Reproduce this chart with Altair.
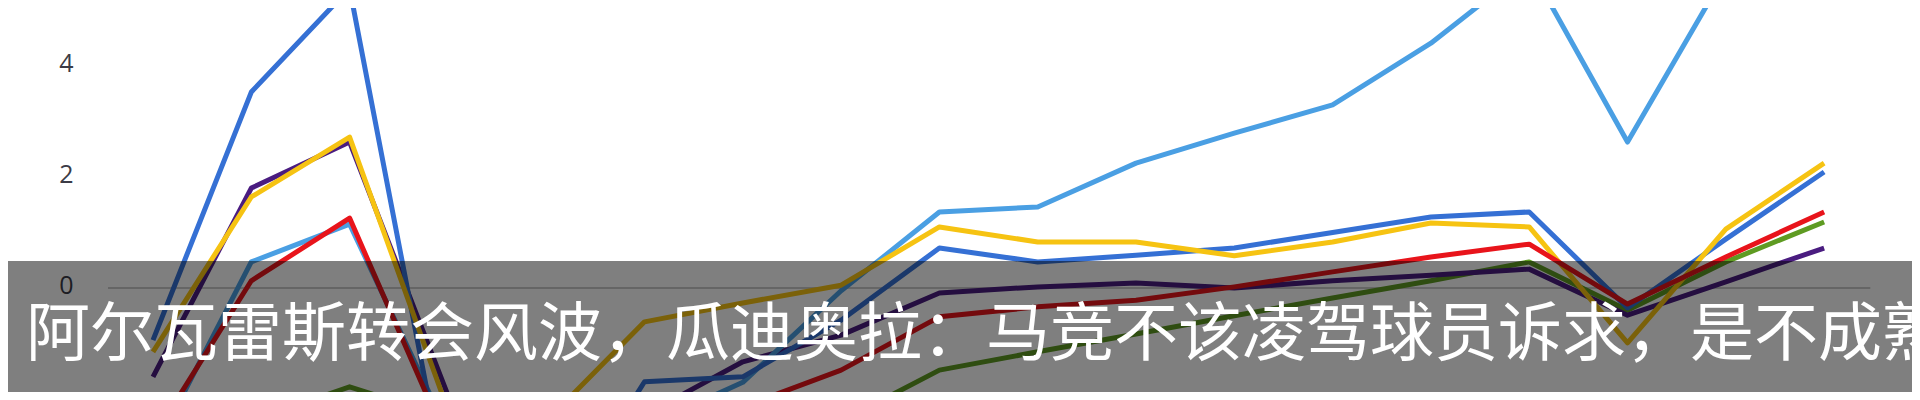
import altair as alt
import pandas as pd

# ---- data ----
x_idx = list(range(18))
series_names = ["A", "B", "C", "D", "E", "F"]  # drawing order (bottom -> top)
series_colors = ["#5e9b22", "#4a1c80", "#4a9fe3", "#3570d4", "#f6c312", "#e8141b"]

green = [-3.2, -2.4, -1.78, -2.35, -2.6, -2.8, -2.7, -2.4, -1.48, -1.15, -0.83, -0.5,
         -0.18, 0.13, 0.47, -0.4, 0.47, 1.19]
purple = [-1.60, 1.80, 2.63, -1.93, -2.8, -2.29, -1.33, -0.85, -0.09, 0.02, 0.09, 0.0,
          0.13, 0.23, 0.34, -0.49, 0.11, 0.72]
light_blue = [-2.97, 0.47, 1.15, -2.6, -3.2, -2.5, -1.7, -0.05, 1.37, 1.46, 2.25, 2.79,
              3.30, 4.41, 5.8, 2.63, 5.68, 6.0]
dark_blue = [-0.94, 3.53, 5.4, -3.8, -4.5, -1.69, -1.60, -0.58, 0.72, 0.47, 0.59, 0.72,
             1.0, 1.28, 1.37, -0.36, 0.88, 2.09]
yellow = [-1.15, 1.64, 2.72, -2.2, -2.4, -0.61, -0.27, 0.05, 1.10, 0.83, 0.83, 0.58,
          0.83, 1.17, 1.10, -0.99, 1.06, 2.25]
red = [-2.7, 0.13, 1.26, -2.8, -3.0, -2.6, -2.14, -1.48, -0.52, -0.34, -0.22, 0.02,
       0.29, 0.56, 0.79, -0.29, 0.56, 1.37]

y_ticks = [4, 2, 0]
banner_text = "阿尔瓦雷斯转会风波，瓜迪奥拉：马竞不该凌驾球员诉求，是不成熟"

rows = []
for name, vals in zip(series_names, [green, purple, light_blue, dark_blue, yellow, red]):
    for i, v in zip(x_idx, vals):
        rows.append({"series": name, "i": i, "v": v})
df = pd.DataFrame(rows)

W, H = 1904, 384
xscale = alt.Scale(domain=[-1.475, 17.894], nice=False, zero=False)
yscale = alt.Scale(domain=[-1.874, 5.045], nice=False, zero=False)
yaxis = alt.Axis(values=y_ticks, orient="left", offset=-65, ticks=False, tickSize=0,
                 domain=False, grid=False, labelPadding=0, labelFont="Open Sans",
                 labelFontSize=25, labelColor="#3b3b46", labelOffset=-2, title=None,
                 labelOverlap=False)

zero_df = pd.DataFrame({"x": [-0.458], "x2": [17.47], "y": [0]})
rule = alt.Chart(zero_df).mark_rule(color="#cacaca", strokeWidth=2).encode(
    x=alt.X("x:Q", scale=xscale, axis=None),
    x2="x2:Q",
    y=alt.Y("y:Q", scale=yscale, axis=yaxis),
)

lines = alt.Chart(df).mark_line(strokeWidth=5, clip=True, strokeJoin="round").encode(
    x=alt.X("i:Q", scale=xscale, axis=None),
    y=alt.Y("v:Q", scale=yscale, axis=yaxis),
    color=alt.Color("series:N", scale=alt.Scale(domain=series_names, range=series_colors),
                    legend=None),
)

banner_df = pd.DataFrame({"t": [banner_text]})
rect = alt.Chart(banner_df).mark_rect(color="black", opacity=0.5).encode(
    x=alt.value(0), x2=alt.value(W), y=alt.value(253), y2=alt.value(H)
)
text = alt.Chart(banner_df).mark_text(
    align="left", baseline="alphabetic", font="Noto Sans CJK SC", fontSize=64,
    color="white", clip=True
).encode(text="t:N", x=alt.value(18), y=alt.value(347))

chart = alt.layer(rule, lines, rect, text).properties(
    width=W, height=H,
    autosize=alt.AutoSizeParams(type="fit", contains="padding"),
    padding=0,
).configure_view(stroke=None)

chart.save("out.html", embed_options={"renderer": "svg", "actions": False})
